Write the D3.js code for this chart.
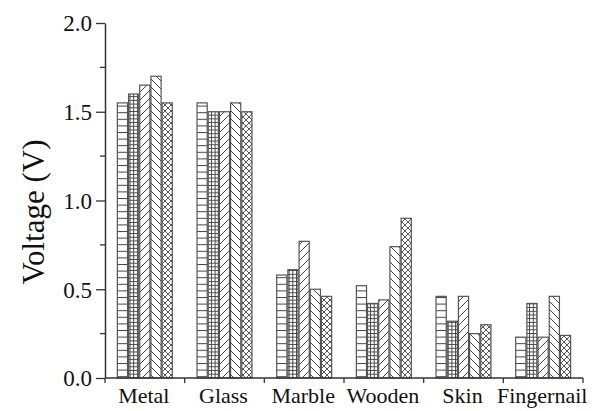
<!DOCTYPE html>
<html><head><meta charset="utf-8">
<script src="https://cdn.jsdelivr.net/npm/d3@7"></script>
<style>body{margin:0;background:#fff}svg{display:block}
svg text{font-family:"Liberation Serif","Times New Roman",Times,"DejaVu Serif",serif !important;}</style>
</head><body>
<script>
const categories = ["Metal","Glass","Marble","Wooden","Skin","Fingernail"];
const seriesNames = ["s1","s2","s3","s4","s5"];
const s1 = [1.55,1.55,0.58,0.52,0.46,0.23];
const s2 = [1.60,1.50,0.61,0.42,0.32,0.42];
const s3 = [1.65,1.50,0.77,0.44,0.46,0.23];
const s4 = [1.70,1.55,0.50,0.74,0.25,0.46];
const s5 = [1.55,1.50,0.46,0.90,0.30,0.24];
const seriesValues = [s1,s2,s3,s4,s5];
const yTicks = [0,0.5,1.0,1.5,2.0];
const yMinorTicks = [0.25,0.75,1.25,1.75];
const yTitle = "Voltage (V)";

(function(){
const W=594,H=411;
const mL=105,mR=583,mT=23,mB=378;
const svg=d3.select("body").append("svg").attr("width",W).attr("height",H);
const defs=svg.append("defs");
const pc="#444";
function pat(id,w,h,d,sw){
  const p=defs.append("pattern").attr("id",id).attr("patternUnits","userSpaceOnUse").attr("width",w).attr("height",h);
  p.append("rect").attr("width",w).attr("height",h).attr("fill","#fff");
  p.append("path").attr("d",d).attr("stroke",pc).attr("stroke-width",sw||1).attr("fill","none");
  return p;
}
pat("p0",10,6.6,"M0,0.5 H10");
pat("p1",3.7,3.7,"M0,0.5 H3.7 M0.5,0 V3.7");
pat("p2",8,8,"M0,8 L8,0 M-2,2 L2,-2 M6,10 L10,6");
pat("p3",8,8,"M0,0 L8,8 M-2,6 L2,10 M6,-2 L10,2");
pat("p4",6,6,"M0,0 L6,6 M0,6 L6,0",0.9);

const x0=d3.scaleBand().domain(categories).range([mL,mR]).padding(0);
const x1=d3.scaleBand().domain(seriesNames).range([0,x0.bandwidth()]).paddingInner(0).paddingOuter(1.06);
const y=d3.scaleLinear().domain([0,2]).range([mB,mT]);

const g=svg.append("g");
categories.forEach((c,ci)=>{
  seriesNames.forEach((s,si)=>{
    const v=seriesValues[si][ci];
    g.append("rect").attr("x",x0(c)+x1(s)+0.5).attr("y",y(v)).attr("width",x1.bandwidth()-1).attr("height",y(0)-y(v))
      .attr("fill",`url(#p${si})`).attr("stroke","#555").attr("stroke-width",1.2);
  });
});

const ya=svg.append("g").attr("transform",`translate(${mL},0)`)
  .call(d3.axisLeft(y).tickValues(yTicks).tickFormat(d3.format(".1f")).tickSizeInner(9).tickSizeOuter(0).tickPadding(4));
ya.attr("font-size",null).attr("font-family",null);
ya.select(".domain").attr("stroke","#333").attr("stroke-width",1.5);
ya.selectAll(".tick line").attr("stroke","#333").attr("stroke-width",1.3);
ya.selectAll(".tick text").attr("font-size",23).style("font-size","23px").attr("fill","#111").attr("dy","0.34em");
svg.append("g").selectAll("line").data(yMinorTicks).join("line")
  .attr("x1",mL-5).attr("x2",mL).attr("y1",d=>y(d)).attr("y2",d=>y(d)).attr("stroke","#333").attr("stroke-width",1.3);
svg.append("line").attr("x1",mL).attr("x2",mR).attr("y1",mB).attr("y2",mB).attr("stroke","#333").attr("stroke-width",1.5);
const bounds=categories.map(c=>x0(c)).concat([x0(categories[categories.length-1])+x0.bandwidth()]);
svg.append("g").selectAll("line").data(bounds).join("line")
  .attr("x1",d=>d).attr("x2",d=>d).attr("y1",mB).attr("y2",mB+5).attr("stroke","#333").attr("stroke-width",1.3);
svg.append("g").selectAll("text").data(categories).join("text")
  .attr("x",d=>x0(d)+x0.bandwidth()/2-1).attr("y",403).attr("text-anchor","middle")
  .style("font-size","22px").attr("fill","#111").text(d=>d);
svg.append("text").attr("transform",`translate(44,212) rotate(-90)`).attr("text-anchor","middle")
  .style("font-size","31px").attr("fill","#111").text(yTitle);
})();
</script>
</body></html>
